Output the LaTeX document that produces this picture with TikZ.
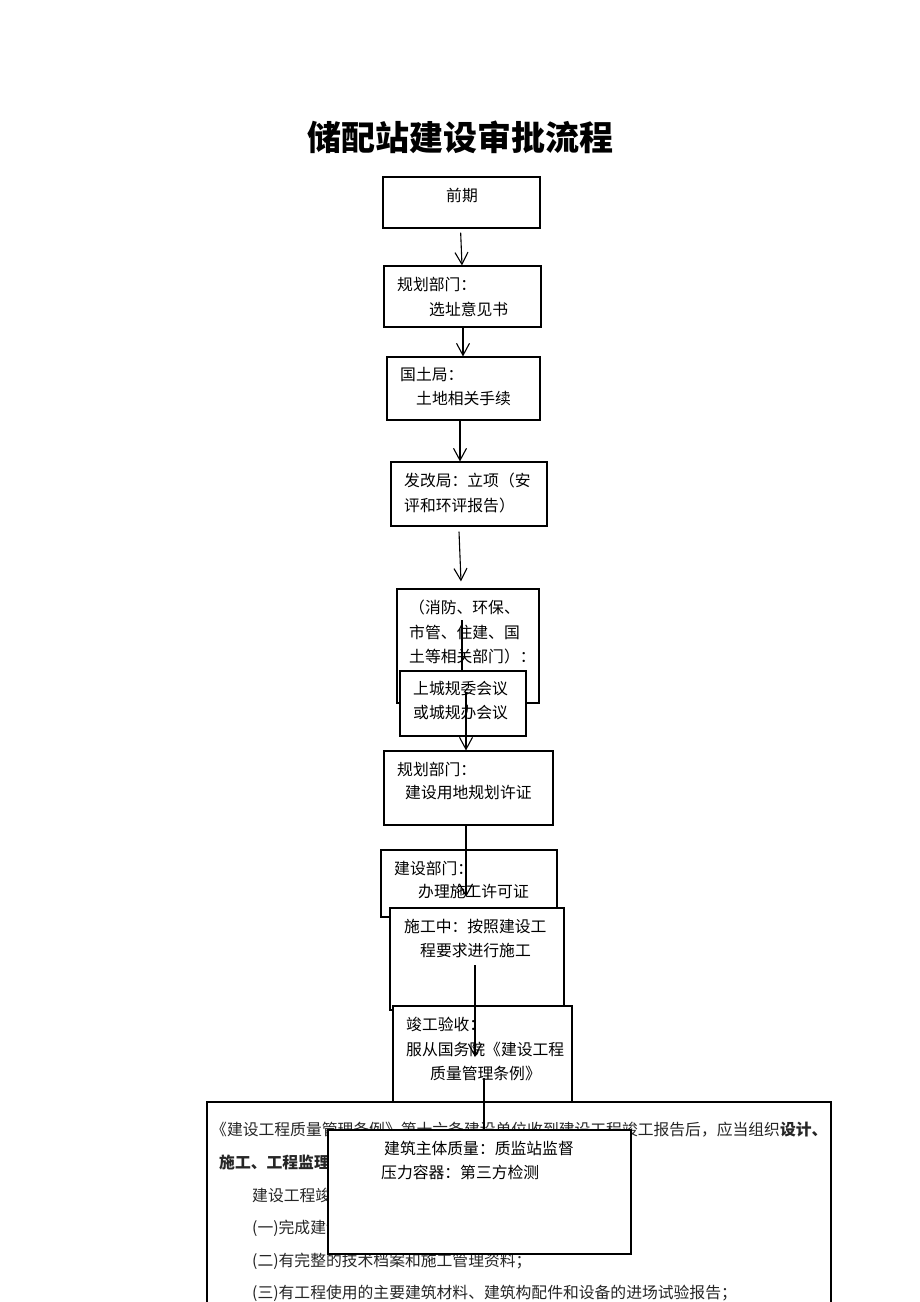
\documentclass[tikz,border=0pt]{standalone}
\usepackage{fontspec}
\setmainfont{Noto Sans CJK SC}
\usetikzlibrary{arrows.meta}
\begin{document}
\begin{tikzpicture}[x=1pt,y=-1pt,
  box/.style={draw, line width=1.1pt, fill=white, inner sep=0pt, rectangle},
  txt/.style={anchor=west, inner sep=0pt, font=\fontsize{15.8}{18}\selectfont},
  ctxt/.style={anchor=center, inner sep=0pt, font=\fontsize{15.8}{18}\selectfont},
  btxt/.style={anchor=west, inner sep=0pt, text=black!85, font=\fontsize{15.8}{18}\selectfont},
  arr/.style={line width=1.1pt, -{Straight Barb[length=12pt,width=13pt,line width=1.1pt]}},
  ln/.style={line width=1.1pt}]
\clip (0,0) rectangle (920,1302);
\fill[white] (0,0) rectangle (920,1302);

% title
\node[inner sep=0pt, font=\fontsize{34}{38}\selectfont\bfseries] (title) at (460,137) {储配站建设审批流程};

% box 1
\node[box, minimum width=157pt, minimum height=51pt] (b1) at (461.5,202.5) {};
\node[ctxt] (t1) at (462,195) {前期};

% box 2
\node[box, minimum width=157pt, minimum height=61pt] (b2) at (462.5,296.5) {};
\node[txt] (t2a) at (397,284) {规划部门：};
\node[txt] (t2b) at (429,309) {选址意见书};
\draw[arr, shorten <=4pt] ([xshift=-1pt]b1.south) -- ([xshift=-0.5pt]b2.north);

% box 3
\node[box, minimum width=153pt, minimum height=63pt] (b3) at (463.5,388.5) {};
\node[txt] (t3a) at (400,375) {国土局：};
\node[txt] (t3b) at (416,399) {土地相关手续};
\draw[arr] ([xshift=0.5pt]b2.south) -- ([xshift=-0.5pt]b3.north);

% box 4
\node[box, minimum width=156pt, minimum height=64pt] (b4) at (469,494) {};
\node[txt] (t4a) at (404,480) {发改局：立项（安};
\node[txt] (t4b) at (404,505) {评和环评报告）};
\draw[arr] ([xshift=-3.5pt]b3.south) -- ([xshift=-9pt]b4.north);

% box 5
\node[box, minimum width=142pt, minimum height=114pt] (b5) at (468,646) {};
\node[txt] (t5a) at (409,607) {（消防、环保、};
\node[txt] (t5b) at (409,632) {市管、住建、国};
\node[txt] (t5c) at (409,656) {土等相关部门）：};
\draw[arr] ([xshift=-10pt,yshift=-5pt]b4.south) -- ([xshift=-7pt,yshift=7pt]b5.north);

% line into box 6
\coordinate (c56) at (462,620);
% box 6
\node[box, minimum width=126pt, minimum height=65pt] (b6) at (463,703.5) {};
\draw[ln] (c56) -- ([xshift=-1pt]b6.north);
\node[txt] (t6a) at (413,689) {上城规委会议};
\node[txt] (t6b) at (413,713) {或城规办会议};

% box 7
\node[box, minimum width=169pt, minimum height=74pt] (b7) at (468.5,788) {};
\node[txt] (t7a) at (397,769) {规划部门：};
\node[txt] (t7b) at (405,793) {建设用地规划许证};
\coordinate (c67) at (466,692);
\draw[arr] (c67) -- ([xshift=-2.5pt]b7.north);

% box 8
\node[box, minimum width=176pt, minimum height=67pt] (b8) at (469,883.5) {};
\node[txt] (t8a) at (394,868) {建设部门：};
\node[txt] (t8b) at (418,892) {办理施工许可证};
\coordinate (c78) at (466,897);
\draw[arr] ([xshift=-2.5pt]b7.south) -- (c78);

% box 9
\node[box, minimum width=174pt, minimum height=102pt] (b9) at (477,959) {};
\node[txt] (t9a) at (404,926) {施工中：按照建设工};
\node[txt] (t9b) at (420,950) {程要求进行施工};

% box 10
\node[box, minimum width=179pt, minimum height=97pt] (b10) at (482.5,1054.5) {};
\node[txt] (t10a) at (406,1024) {竣工验收：};
\node[txt] (t10b) at (406,1049) {服从国务院《建设工程};
\node[txt] (t10c) at (430,1073) {质量管理条例》};
\coordinate (c9) at (475,965);
\coordinate (c10) at (475,1057);
\draw[arr] (c9) -- (c10);

% big box 11
\node[box, minimum width=624pt, minimum height=218pt] (b11) at (519,1211) {};
\node[btxt] (t11a) at (211,1130) {《建设工程质量管理条例》第十六条建设单位收到建设工程竣工报告后，应当组织\textbf{设计、}};
\node[btxt] (t11b) at (219,1162) {\textbf{施工、工程监理}};
\node[btxt] (t11c) at (252,1195) {建设工程竣工验收应当具备下列条件：};
\node[btxt] (t11d) at (252,1228) {(一)完成建设工程设计和合同约定的各项内容；};
\node[btxt] (t11e) at (252,1261) {(二)有完整的技术档案和施工管理资料；};
\node[btxt] (t11f) at (252,1293) {(三)有工程使用的主要建筑材料、建筑构配件和设备的进场试验报告；};

% box 12
\node[box, minimum width=303pt, minimum height=124pt] (b12) at (479.5,1192) {};
\node[txt] (t12a) at (384,1148) {建筑主体质量：质监站监督};
\node[txt] (t12b) at (381,1172) {压力容器：第三方检测};
\coordinate (c1011) at (484,1078);
\draw[ln] (c1011) -- ([xshift=4.5pt]b12.north);
\end{tikzpicture}
\end{document}
